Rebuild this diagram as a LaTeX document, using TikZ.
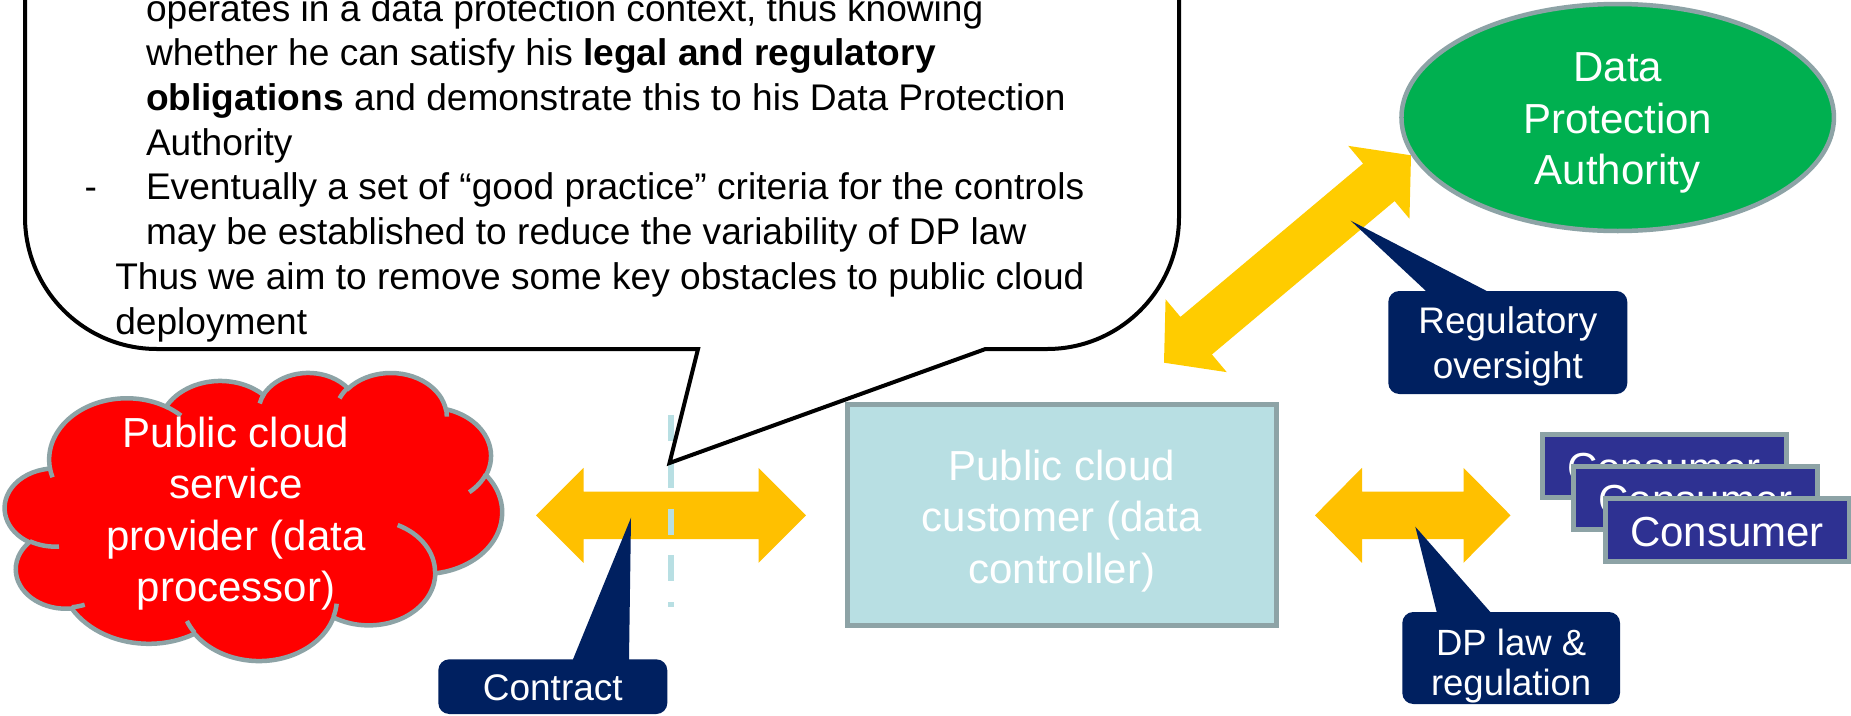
\documentclass[tikz,border=0pt]{standalone}
\usepackage{fontspec}
\setmainfont{Liberation Sans}
\usetikzlibrary{calc,shapes.geometric}
\definecolor{navy}{HTML}{002060}
\definecolor{cborder}{HTML}{8DA3A6}
\definecolor{lblue}{HTML}{B8DFE3}
\definecolor{dpgreen}{HTML}{00B050}
\definecolor{cred}{HTML}{FF0000}
\definecolor{arrowA}{HTML}{FFC000}
\definecolor{arrowB}{HTML}{FFCC00}
\definecolor{consfill}{HTML}{2E3192}
\newcommand\mainfs{\fontsize{42}{51.5}\selectfont}
\newcommand\labfs{\fontsize{37}{44.8}\selectfont}
\newcommand\calfs{\fontsize{37.1}{44.7}\selectfont}
\newcommand\tstrut[1]{\rule{0pt}{#1pt}}
% block double arrow: colour, tip A, tip B, head length, head half width, shaft half width
\newcommand\dblarrow[6]{%
  \fill[#1] (#2) -- ($(#2)!#4!(#3)!#5!90:(#3)$) -- ($(#2)!#4!(#3)!#6!90:(#3)$)
    -- ($(#3)!#4!(#2)!#6!-90:(#2)$) -- ($(#3)!#4!(#2)!#5!-90:(#2)$) -- (#3)
    -- ($(#3)!#4!(#2)!#5!90:(#2)$) -- ($(#3)!#4!(#2)!#6!90:(#2)$)
    -- ($(#2)!#4!(#3)!#6!-90:(#3)$) -- ($(#2)!#4!(#3)!#5!-90:(#3)$) -- cycle;}
% wedge of a label callout: node, left base offset, right base offset, tip
\newcommand\wedgeto[4]{%
  \fill[navy] ($(#1.north)+(#2,0)$) -- (#4) -- ($(#1.north)+(#3,0)$)
    -- ($(#1.north)+(#3,8)$) -- ($(#1.north)+(#2,8)$) -- cycle;}
\begin{document}
\begin{tikzpicture}[x=1pt,y=-1pt,
  every node/.style={inner sep=0pt, outer sep=0pt},
  maintext/.style={text=white, font=\mainfs, align=center},
  labelbox/.style={fill=navy, rounded corners=11pt, text=white, font=\labfs, align=center},
  consbox/.style={draw=cborder, line width=5pt, fill=consfill, minimum width=244pt, minimum height=63.5pt, text=white, font=\mainfs},
  caltext/.style={anchor=base west, font=\calfs, text=black},
  cloudshape/.style={fill=cred, draw=cborder, line width=4.5pt},
  cloudline/.style={draw=cborder, line width=4.5pt},
  dashline/.style={draw=lblue, line width=6pt, dash pattern=on 26pt off 20.75pt},
]
\useasboundingbox (0,0) rectangle (1851,715);
\fill[white] (0,0) rectangle (1851,715);
\clip (0,0) rectangle (1851,715);

% ---- cloud (data processor)
\begin{scope}[shift={(5,372)}, x=1.1505pt, y=-0.6667pt]
  \path[cloudshape] (39.00,143.70)
    arc[start angle=172.25, end angle=300.36, x radius=67.53, y radius=91.90]
    arc[start angle=-152.02, end angle=-45.45, x radius=53.33, y radius=72.67]
    arc[start angle=-153.49, end angle=-37.34, x radius=43.65, y radius=59.45]
    arc[start angle=-139.71, end angle=-10.22, x radius=48.57, y radius=65.95]
    arc[start angle=-74.77, end angle=23.22, x radius=53.33, y radius=72.73]
    arc[start angle=-37.51, end angle=81.86, x radius=67.75, y radius=92.20]
    arc[start angle=0.46, end angle=121.98, x radius=57.85, y radius=78.67]
    arc[start angle=16.85, end angle=146.23, x radius=67.52, y radius=92.15]
    arc[start angle=58.98, end angle=150.19, x radius=77.20, y radius=105.43]
    arc[start angle=83.31, end angle=223.12, x radius=43.60, y radius=59.18]
    arc[start angle=120.36, end angle=264.11, x radius=43.45, y radius=59.45]
    -- cycle;
  \path[cloudline]
    (46.93,261.77) arc[start angle=85.54, end angle=120.36, x radius=43.45, y radius=59.45]
    (69.28,348.99) arc[start angle=68.23, end angle=83.31, x radius=43.60, y radius=59.18]
    (164.78,390.90) arc[start angle=146.23, end angle=158.47, x radius=67.52, y radius=92.15]
    (288.27,347.51) arc[start angle=4.74, end angle=16.85, x radius=67.52, y radius=92.15]
    (341.29,229.54) arc[start angle=-64.02, end angle=0.46, x radius=57.85, y radius=78.67]
    (417.98,153.54) arc[start angle=23.22, end angle=49.64, x radius=53.33, y radius=72.73]
    (383.24,54.26) arc[start angle=-10.22, end angle=0.82, x radius=48.57, y radius=65.95]
    (290.78,39.52) arc[start angle=-156.29, end angle=-139.71, x radius=48.57, y radius=65.95]
    (221.41,47.20) arc[start angle=-167.72, end angle=-153.49, x radius=43.65, y radius=59.45]
    (140.00,51.92) arc[start angle=-59.64, end angle=-45.74, x radius=67.53, y radius=91.90]
    (41.27,157.89) arc[start angle=163.20, end angle=172.25, x radius=67.53, y radius=91.90];
\end{scope}
\node[maintext, anchor=north] (provider) at (236,407)
  {\tstrut{40}Public cloud\\service\\provider (data\\processor)};

% ---- contract arrow and dashed boundary
\coordinate (ctrL) at (536,515.3);
\coordinate (ctrR) at (806,515.3);
\dblarrow{arrowA}{ctrL}{ctrR}{47.5pt}{47.5pt}{23.7pt}
\coordinate (dashT) at (671,415);
\coordinate (dashB) at (671,607);
\draw[dashline] (dashT) -- (dashB);

% ---- speech bubble
\coordinate (calloutTip) at (669.5,463);
\filldraw[fill=white, draw=black, line width=4pt, line join=miter]
  (25,-60) -- (25,217) .. controls (25,289.9) and (84.1,349) .. (157,349)
  -- (698,349) -- (calloutTip) -- (985.5,349) -- (1047,349)
  .. controls (1119.9,349) and (1179,289.9) .. (1179,217) -- (1179,-60) -- cycle;
\node[caltext] (co1) at (146,21.1) {operates in a data protection context, thus knowing};
\node[caltext] (co2) at (146,65.8) {whether he can satisfy his \textbf{legal and regulatory}};
\node[caltext] (co3) at (146,110.5) {\textbf{obligations} and demonstrate this to his Data Protection};
\node[caltext] (co4) at (146,155.2) {Authority};
\node[caltext] (co5a) at (84.5,199.9) {-};
\node[caltext] (co5) at (146,199.9) {Eventually a set of “good practice” criteria for the controls};
\node[caltext] (co6) at (146,244.6) {may be established to reduce the variability of DP law};
\node[caltext] (co7) at (115.3,289.3) {Thus we aim to remove some key obstacles to public cloud};
\node[caltext] (co8) at (115.3,334) {deployment};

% ---- customer box
\node[draw=cborder, line width=5pt, fill=lblue, minimum width=429.5pt, minimum height=221pt, maintext]
  (customer) at (1061.75,514.5) {\tstrut{43.1}Public cloud\\customer (data\\controller)};

% ---- DP law arrow
\coordinate (dpL) at (1315,515.3);
\coordinate (dpR) at (1510.5,515.3);
\dblarrow{arrowA}{dpL}{dpR}{47pt}{47.5pt}{23.7pt}

% ---- consumers
\node[consbox] (cons1) at (1664,465.75) {\tstrut{34}Consumer};
\node[consbox] (cons2) at (1695.5,497.75) {\tstrut{34}Consumer};
\node[consbox] (cons3) at (1727,529.75) {\tstrut{34}Consumer};

% ---- regulatory arrow and authority
\coordinate (regA) at (1164,362.7);
\coordinate (regB) at (1411,155.3);
\dblarrow{arrowB}{regA}{regB}{42pt}{47.6pt}{24.5pt}
\node[ellipse, draw=cborder, line width=4.5pt, fill=dpgreen, minimum width=432.5pt, minimum height=227pt, maintext]
  (dpa) at (1617.7,117.5) {\tstrut{39.8}Data\\Protection\\Authority};

% ---- label callouts
\node[labelbox, minimum width=239pt, minimum height=103pt] (reg) at (1507.8,342.5)
  {\tstrut{34.4}Regulatory\\oversight};
\coordinate (regTip) at (1350.7,220.7);
\wedgeto{reg}{-81.8}{-21.1}{regTip}

\node[labelbox, minimum width=217.7pt, minimum height=92pt, font=\fontsize{36.5}{40}\selectfont]
  (dplaw) at (1511.15,658) {\tstrut{41.7}DP law \&\\regulation};
\coordinate (dpTip) at (1415.3,526.7);
\wedgeto{dplaw}{-74.45}{-20.85}{dpTip}

\node[labelbox, minimum width=229pt, minimum height=54.7pt] (contract) at (552.8,686.65)
  {\tstrut{28.5}Contract};
\coordinate (contractTip) at (631,517.7);
\wedgeto{contract}{20.2}{76.2}{contractTip}
\end{tikzpicture}
\end{document}
